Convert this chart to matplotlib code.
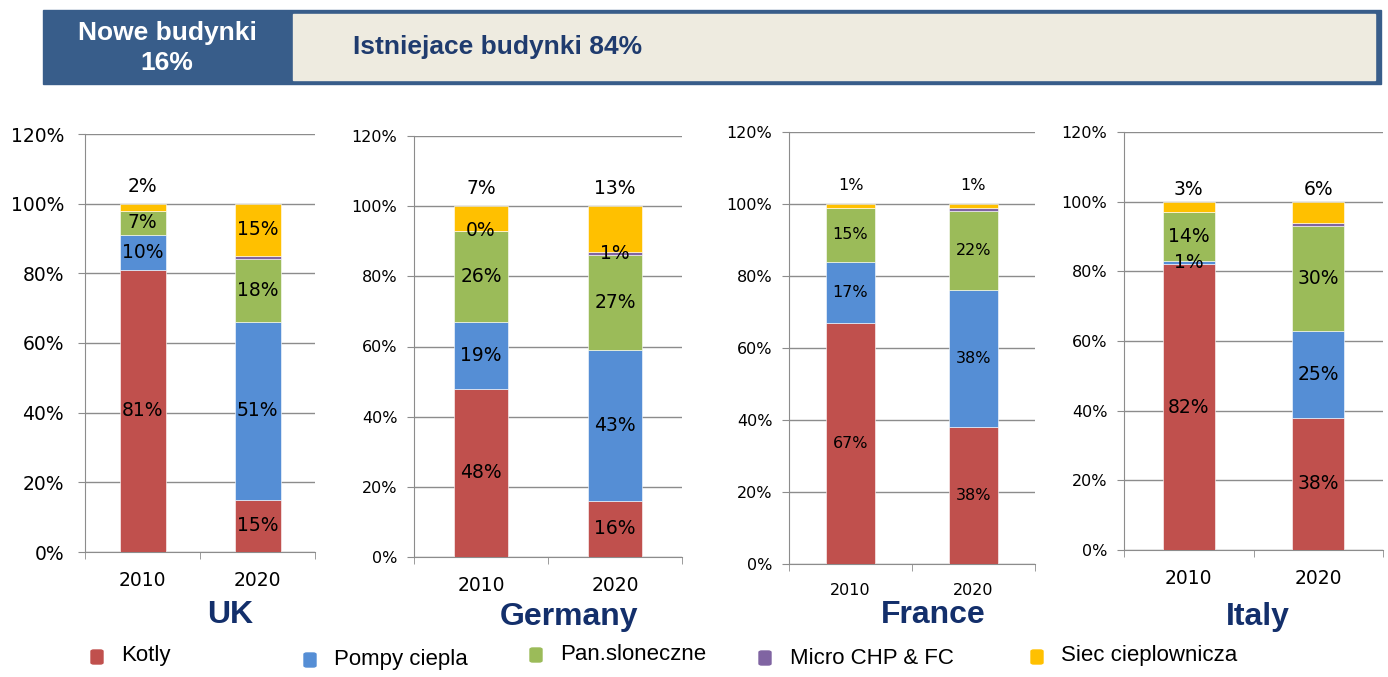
import matplotlib
matplotlib.use("Agg")
import matplotlib.pyplot as plt
from matplotlib.patches import Rectangle, FancyBboxPatch

# dane: udzial technologii grzewczych (%), [2010, 2020] dla kazdego kraju
countries = ["UK", "Germany", "France", "Italy"]
years = ["2010", "2020"]

kotly = [[81, 15], [48, 16], [67, 38], [82, 38]]
pompy = [[10, 51], [19, 43], [17, 38], [1, 25]]
panele = [[7, 18], [26, 27], [15, 22], [14, 30]]
micro = [[0, 1], [0, 1], [0, 1], [0, 1]]
siec = [[2, 15], [7, 13], [1, 1], [3, 6]]

series_names = ["Kotly", "Pompy ciepla", "Pan.sloneczne", "Micro CHP & FC", "Siec cieplownicza"]
colors = ["#C0504D", "#558ED5", "#9BBB59", "#8064A2", "#FFC000"]

fig = plt.figure(figsize=(13.88, 6.77), dpi=100)
W, H = 1388, 677

def px(x0, y0, x1, y1):
    # prostokat w pikselach -> wspolrzedne figury
    return [x0 / W, 1 - y1 / H, (x1 - x0) / W, (y1 - y0) / H]

# baner u gory
fig.patches.append(Rectangle((43 / W, 1 - 84 / H), (1381 - 43) / W, 74 / H,
                             transform=fig.transFigure, color="#385D8A", zorder=0))
fig.patches.append(Rectangle((293 / W, 1 - 80 / H), (1375 - 293) / W, 66 / H,
                             transform=fig.transFigure, color="#EEEBE0", zorder=1))
fig.text(167 / W, 1 - 48 / H, "Nowe budynki\n16%", color="white", fontsize=19,
         fontweight="bold", family="Liberation Sans", ha="center", va="center",
         linespacing=1.35, zorder=2)
fig.text(353 / W, 1 - 47 / H, "Istniejace budynki 84%", color="#1F3B6E", fontsize=19,
         fontweight="bold", family="Liberation Sans", ha="left", va="center", zorder=2)

# pozycje osi (piksele)
boxes = [(85, 134, 315, 552), (414, 136, 682, 557), (789, 132, 1035, 564), (1124, 132, 1383, 550)]
tick_fs = [13.5, 11.5, 11.5, 11.5]
year_fs = [13.5, 13.5, 11.5, 13.5]
lab_fs = [13.5, 13.5, 11.5, 13.5]
ypads = [10, 7, 7, 7]
title_pos = [(230, 615), (569, 617), (933, 615), (1258, 617)]

grid_c = "#8C8C8C"

for i, c in enumerate(countries):
    ax = fig.add_axes(px(*boxes[i]))
    vals = [kotly[i], pompy[i], panele[i], micro[i], siec[i]]
    x = [0, 1]
    bottom = [0, 0]
    for s, v in enumerate(vals):
        ax.bar(x, v, 0.4, bottom=bottom, color=colors[s], edgecolor="white",
               linewidth=0.4, zorder=3)
        for j in range(2):
            # Micro CHP podpisane tylko dla Niemiec
            if s == 3 and c != "Germany":
                continue
            yc = bottom[j] + v[j] / 2
            if s == 4 and not (c == "UK" and j == 1):
                yc = 105 if c != "Italy" else 103.5
            ax.text(x[j], yc, "%d%%" % v[j], ha="center", va="center",
                    fontsize=lab_fs[i], color="black", zorder=4)
        bottom = [bottom[j] + v[j] for j in range(2)]

    ax.set_xlim(-0.5, 1.5)
    ax.set_ylim(0, 120)
    ax.set_yticks(range(0, 121, 20))
    ax.set_yticklabels(["%d%%" % t for t in range(0, 121, 20)], fontsize=tick_fs[i])
    ax.set_xticks(x)
    ax.set_xticklabels(years, fontsize=year_fs[i])
    ax.set_xticks([-0.5, 0.5, 1.5], minor=True)
    ax.tick_params(axis="x", which="major", length=0, pad=14)
    ax.tick_params(axis="x", which="minor", length=5, color=grid_c, direction="out")
    ax.tick_params(axis="y", length=5, color=grid_c, direction="out", pad=ypads[i])
    ax.yaxis.grid(True, color=grid_c, linewidth=1, zorder=0)
    ax.set_axisbelow(True)
    for sp in ["top", "right"]:
        ax.spines[sp].set_visible(False)
    for sp in ["left", "bottom"]:
        ax.spines[sp].set_color(grid_c)
    fig.text(title_pos[i][0] / W, 1 - title_pos[i][1] / H, c, ha="center", va="center",
             fontsize=23, fontweight="bold", color="#132F6B", family="Liberation Sans")

# legenda na dole
leg_marker = [(97, 657), (310, 660), (536, 655), (765, 658), (1037, 657)]
leg_text = [(121, 656), (334, 660), (560, 655), (790, 658), (1061, 656)]
for k, name in enumerate(series_names):
    mx, my = leg_marker[k]
    fig.patches.append(FancyBboxPatch(((mx - 6) / W, 1 - (my + 7) / H), 12 / W, 14 / H,
                                      boxstyle="round,pad=0,rounding_size=0.002",
                                      transform=fig.transFigure, color=colors[k]))
    tx, ty = leg_text[k]
    fig.text(tx / W, 1 - ty / H, name, ha="left", va="center", fontsize=16,
             family="Liberation Sans", color="black")

fig.savefig("out.png", dpi=100)
